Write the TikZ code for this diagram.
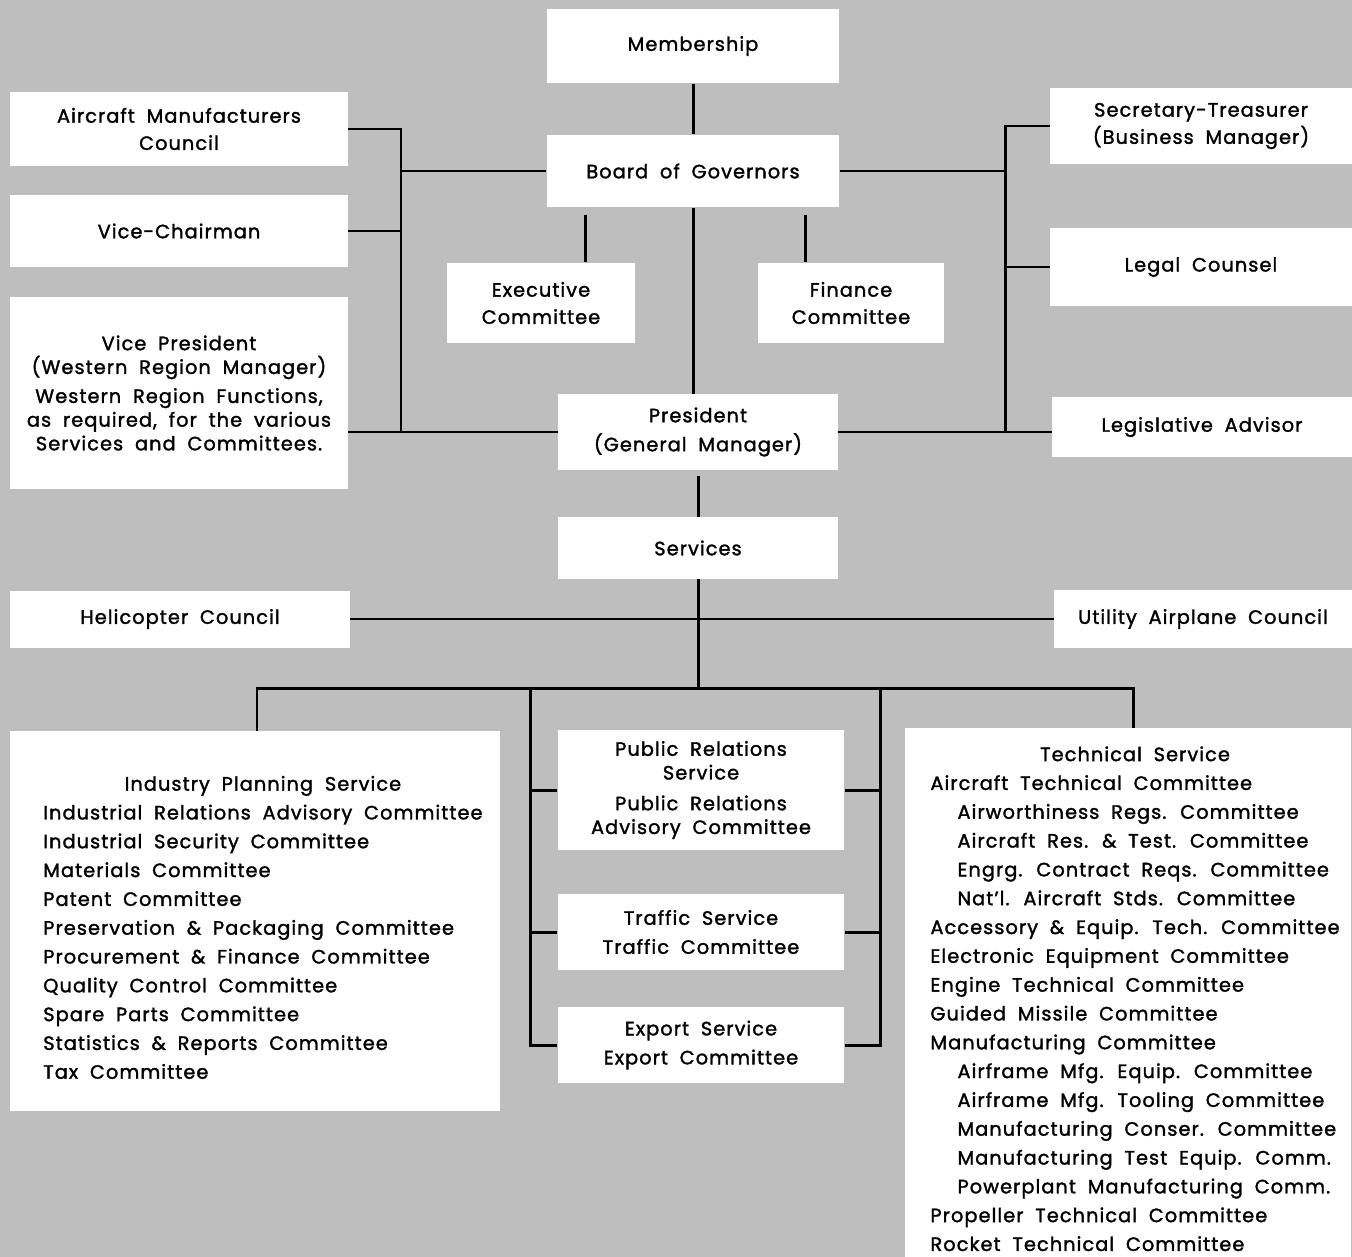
\documentclass[tikz,border=0pt]{standalone}
\usepackage{fontspec}
\setmainfont{Poppins}[LetterSpace=5.5, WordSpace=1.9, FakeBold=1.6]
\definecolor{bgGray}{RGB}{190,190,190}

\begin{document}
\begin{tikzpicture}[x=0.02cm, y=-0.02cm,
	orgbox/.style={fill=white, inner sep=2pt, align=center, font=\fontsize{11}{13.5}\selectfont},
	listbox/.style={orgbox, font=\fontsize{11}{16.4}\selectfont},
	orgline/.style={line width=1.7pt, black}]
	\fill[bgGray] (0,0) rectangle (1352,1257);
	\useasboundingbox (0,0) rectangle (1352,1257);
	\begin{scope}
	\clip (0,0) rectangle (1352,1257);
	% top part
	\node[orgbox, minimum width=5.86cm, minimum height=1.50cm] (member) at (693,46) {Membership};
	\node[orgbox, minimum width=5.86cm, minimum height=1.46cm] (board) at (693,171) {Board of Governors};
	\node[orgbox, minimum width=6.76cm, minimum height=1.48cm] (amc) at (179,129) {Aircraft Manufacturers\\[2pt]Council};
	\node[orgbox, minimum width=6.76cm, minimum height=1.44cm] (vicech) at (179,231) {Vice-Chairman};
	\node[orgbox, minimum width=6.76cm, minimum height=3.84cm] (vp) at (179,393)
		{Vice President\\(Western Region Manager)\\[3pt]Western Region Functions,\\as required, for the various\\Services and Committees.};
	\node[orgbox, minimum width=3.76cm, minimum height=1.62cm] (exec) at (541,303) {Executive\\[2pt]Committee};
	\node[orgbox, minimum width=3.74cm, minimum height=1.62cm] (fin) at (851,303) {Finance\\[2pt]Committee};
	\node[orgbox, minimum width=5.60cm, minimum height=1.52cm] (pres) at (698,432) {President\\[3pt](General Manager)};
	\node[orgbox, minimum width=6.04cm, minimum height=1.54cm] (sec) at (1201,126) {Secretary-Treasurer\\[2pt](Business Manager)};
	\node[orgbox, minimum width=6.04cm, minimum height=1.58cm] (legal) at (1201,267) {Legal Counsel};
	\node[orgbox, minimum width=6.00cm, minimum height=1.20cm] (legis) at (1202,427) {Legislative Advisor};
	\node[orgbox, minimum width=5.60cm, minimum height=1.24cm] (serv) at (698,548) {Services};
	\node[orgbox, minimum width=6.80cm, minimum height=1.14cm] (heli) at (180,619) {Helicopter Council};
	\node[orgbox, minimum width=5.96cm, minimum height=1.16cm] (util) at (1203,619) {Utility Airplane Council};
	% service boxes
	\node[orgbox, minimum width=5.74cm, minimum height=2.42cm] (pr) at (701,790)
		{Public Relations\\Service\\[4pt]Public Relations\\Advisory Committee};
	\node[orgbox, minimum width=5.74cm, minimum height=1.52cm] (traf) at (701,932) {Traffic Service\\[3pt]Traffic Committee};
	\node[orgbox, minimum width=5.74cm, minimum height=1.52cm] (exp) at (701,1045) {Export Service\\[3pt]Export Committee};
	\node[listbox, minimum width=9.8cm, minimum height=7.6cm] (ips) at (255,921) {%
		\hspace*{9pt}\raisebox{-4.5pt}[\height][\depth]{\begin{tabular}{@{}l@{}}
		\multicolumn{1}{@{}c@{}}{Industry Planning Service}\\
		Industrial Relations Advisory Committee\\
		Industrial Security Committee\\
		Materials Committee\\
		Patent Committee\\
		Preservation \& Packaging Committee\\
		Procurement \& Finance Committee\\
		Quality Control Committee\\
		Spare Parts Committee\\
		Statistics \& Reports Committee\\
		Tax Committee
		\end{tabular}}};
	\node[listbox, minimum width=8.94cm, minimum height=10.68cm] (tech) at (1128,995) {%
		\hspace*{8pt}\raisebox{-3pt}[\height][\depth]{\begin{tabular}{@{}l@{}}
		\multicolumn{1}{@{}c@{}}{Technical Service}\\
		Aircraft Technical Committee\\
		\hspace{1.4em}Airworthiness Regs. Committee\\
		\hspace{1.4em}Aircraft Res. \& Test. Committee\\
		\hspace{1.4em}Engrg. Contract Reqs. Committee\\
		\hspace{1.4em}Nat'l. Aircraft Stds. Committee\\
		Accessory \& Equip. Tech. Committee\\
		Electronic Equipment Committee\\
		Engine Technical Committee\\
		Guided Missile Committee\\
		Manufacturing Committee\\
		\hspace{1.4em}Airframe Mfg. Equip. Committee\\
		\hspace{1.4em}Airframe Mfg. Tooling Committee\\
		\hspace{1.4em}Manufacturing Conser. Committee\\
		\hspace{1.4em}Manufacturing Test Equip. Comm.\\
		\hspace{1.4em}Powerplant Manufacturing Comm.\\
		Propeller Technical Committee\\
		Rocket Technical Committee
		\end{tabular}}};
	\end{scope}
	% junctions
	\coordinate (lbus) at (401,127);
	\coordinate (rbus) at (1005,124);
	\coordinate (exectap) at (585,0);
	\coordinate (fintap) at (805,0);
	\coordinate (mainbus) at (699,688);
	\coordinate (ltap) at (257,688);
	\coordinate (rtap) at (1133,688);
	\coordinate (lsub) at (530,688);
	\coordinate (rsub) at (880,688);
	% upper connectors
	\draw[orgline] (member) -- (board);
	\draw[orgline] (amc.east) -| (lbus |- pres.west);
	\draw[orgline] (vicech.east) -- (vicech.east -| lbus);
	\draw[orgline] (board.west) -- (board.west -| lbus);
	\draw[orgline] (vp.east |- pres.west) -- (pres.west);
	\draw[orgline] (sec.west) -| (rbus |- pres.east);
	\draw[orgline] (legal.west) -- (legal.west -| rbus);
	\draw[orgline] (board.east) -- (board.east -| rbus);
	\draw[orgline] (pres.east) -- (pres.east -| legis.west);
	\draw[orgline, shorten <=4pt] (board.south -| exectap) -- (exec.north -| exectap);
	\draw[orgline, shorten <=4pt] (board.south -| fintap) -- (fin.north -| fintap);
	\draw[orgline] (board.south) -- (board.south |- pres.north);
	\draw[orgline, shorten <=3pt] (pres) -- (serv);
	% lower connectors
	\draw[orgline] (serv.south) -- (serv.south |- mainbus);
	\draw[orgline] (heli.east) -- (util.west);
	\draw[orgline] (ips.north -| ltap) -- (ltap) -- (rtap) -- (tech.north -| rtap);
	\draw[orgline] (lsub) |- (exp.west);
	\draw[orgline] (pr.west -| lsub) -- (pr.west);
	\draw[orgline] (traf.west -| lsub) -- (traf.west);
	\draw[orgline] (rsub) |- (exp.east);
	\draw[orgline] (pr.east -| rsub) -- (pr.east);
	\draw[orgline] (traf.east -| rsub) -- (traf.east);
\end{tikzpicture}
\end{document}
